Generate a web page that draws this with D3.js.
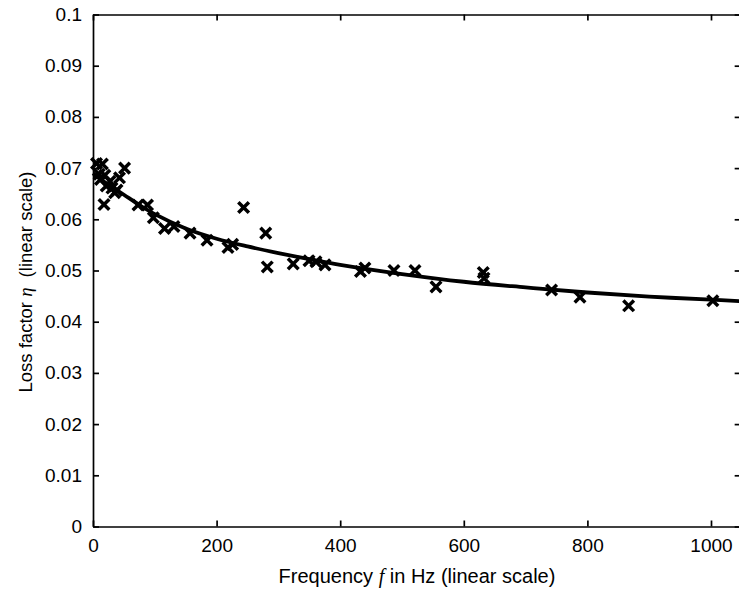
<!DOCTYPE html>
<html>
<head>
<meta charset="utf-8">
<script src="https://cdn.jsdelivr.net/npm/d3@7"></script>
<style>
  html, body { margin: 0; padding: 0; background: #fff; }
  svg { display: block; }
  text { font-family: "Liberation Sans", Arial, Helvetica, sans-serif; fill: #000; }
</style>
</head>
<body>
<svg id="chart" width="739" height="592"></svg>
<script>
// Measured points: frequency (Hz) and loss factor
const freqs = [5.7, 15.2, 9.9, 12.1, 19.1, 21.4, 17.8, 27.5, 30.7, 35.1, 42.9, 51.1, 38.8,
  72.8, 88.2, 97.7, 115.7, 131, 157, 184.5, 218.4, 225.9, 243.7, 279.5, 282, 324,
  349.5, 360.8, 375.4, 432.8, 440, 487, 521, 555, 631.5, 632.7, 742, 788, 866.7, 1003];
const etas = [0.0709, 0.0708, 0.0688, 0.0678, 0.0686, 0.0665, 0.0629, 0.0674, 0.0661, 0.0652, 0.0681, 0.0700, 0.0657,
  0.0628, 0.0628, 0.0603, 0.0582, 0.0586, 0.0573, 0.0559, 0.0545, 0.0551, 0.0623, 0.0573, 0.0507, 0.0513,
  0.0519, 0.0517, 0.0511, 0.0498, 0.0505, 0.0500, 0.0500, 0.0468, 0.0496, 0.0485, 0.0462, 0.0448, 0.0431, 0.0441];

// Fitted curve
const fitFreqs = [0, 10, 25, 50, 75, 100, 150, 200, 250, 300, 350, 400, 500, 600, 700, 800, 900, 1000, 1048];
const fitEtas = [0.0690, 0.0680, 0.0668, 0.0648, 0.0628, 0.0610, 0.0582, 0.0562, 0.0547, 0.0534, 0.0522, 0.0511,
  0.0493, 0.0478, 0.0467, 0.0457, 0.0449, 0.0443, 0.0440];

const xTicks = [0, 200, 400, 600, 800, 1000];
const yTicks = [0, 0.01, 0.02, 0.03, 0.04, 0.05, 0.06, 0.07, 0.08, 0.09, 0.1];
const xDomain = [0, 1048];
const yDomain = [0, 0.1];

(function () {
const svg = d3.select("#chart");
const mLeft = 93, mRight = 93 + 1048 * 0.618, mTop = 14.5, mBottom = 526.5;

const x = d3.scaleLinear().domain(xDomain).range([mLeft, mRight]);
const y = d3.scaleLinear().domain(yDomain).range([mBottom, mTop]);

const fmtY = d => d === 0 ? "0" : d3.format("~g")(d);

function styleAxis(g) {
  g.selectAll("path.domain").attr("stroke", "#000").attr("stroke-width", 1.7);
  g.selectAll(".tick line").attr("stroke", "#000").attr("stroke-width", 1.7);
  g.selectAll(".tick text").style("font-size", "19px").attr("fill", "#000");
}

// bottom axis
svg.append("g").attr("transform", `translate(0,${mBottom})`)
  .call(d3.axisBottom(x).tickValues(xTicks).tickSizeInner(-6).tickSizeOuter(0).tickPadding(12).tickFormat(d3.format("d")))
  .call(styleAxis);
// top axis
svg.append("g").attr("transform", `translate(0,${mTop})`)
  .call(d3.axisTop(x).tickValues(xTicks).tickSizeInner(-6).tickSizeOuter(0).tickFormat(""))
  .call(styleAxis);
// left axis
svg.append("g").attr("transform", `translate(${mLeft},0)`)
  .call(d3.axisLeft(y).tickValues(yTicks).tickSizeInner(-6).tickSizeOuter(0).tickPadding(11).tickFormat(fmtY))
  .call(styleAxis);
// right axis
svg.append("g").attr("transform", `translate(${mRight},0)`)
  .call(d3.axisRight(y).tickValues(yTicks).tickSizeInner(-6).tickSizeOuter(0).tickFormat(""))
  .call(styleAxis);

// fitted curve
const line = d3.line().x((d, i) => x(fitFreqs[i])).y(d => y(d)).curve(d3.curveCatmullRom.alpha(0.5));
svg.append("path").datum(fitEtas)
  .attr("d", line)
  .attr("fill", "none").attr("stroke", "#000").attr("stroke-width", 3.8);

// markers
const s = 5.3;
svg.append("g").selectAll("path.mk").data(freqs).join("path")
  .attr("class", "mk")
  .attr("transform", (d, i) => `translate(${x(d)},${y(etas[i])})`)
  .attr("d", `M${-s},${-s}L${s},${s}M${-s},${s}L${s},${-s}`)
  .attr("stroke", "#000").attr("stroke-width", 3.5).attr("fill", "none");

// x title
const xt = svg.append("text").attr("x", 417).attr("y", 583).attr("text-anchor", "middle").style("font-size", "20px");
xt.append("tspan").text("Frequency ");
xt.append("tspan").text("f").style("font-family", "'Liberation Serif', 'Times New Roman', serif").style("font-style", "italic");
xt.append("tspan").text(" in Hz (linear scale)");

// y title
const yt = svg.append("text").attr("transform", "translate(31.5,282) rotate(-90)").attr("text-anchor", "middle").style("font-size", "18.5px");
yt.append("tspan").text("Loss factor ");
yt.append("tspan").text("η").style("font-family", "'Liberation Serif', 'Times New Roman', serif").style("font-style", "italic");
yt.append("tspan").text("\u00a0 (linear scale)");
})();
</script>
</body>
</html>
